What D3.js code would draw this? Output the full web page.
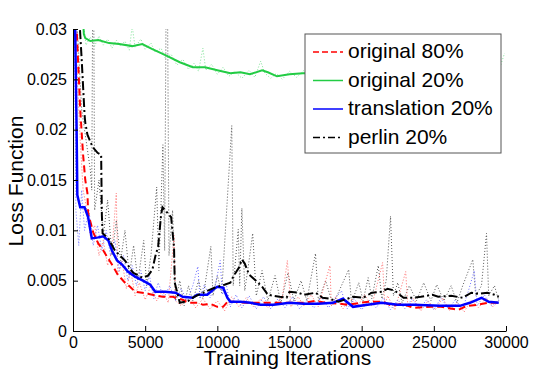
<!DOCTYPE html>
<html>
<head>
<meta charset="utf-8">
<script src="https://cdn.jsdelivr.net/npm/d3@7"></script>
<style>
  html, body { margin: 0; padding: 0; background: #fff; }
  svg { display: block; font-family: 'Liberation Sans', Arial, Helvetica, sans-serif; }
</style>
</head>
<body>
<svg id="chart" width="550" height="371"></svg>
<script>
// tick values
var xTicks = [0, 5000, 10000, 15000, 20000, 25000, 30000];
var yTicks = [0, 0.005, 0.01, 0.015, 0.02, 0.025, 0.03];
var legendNames = ['original 80%', 'original 20%', 'translation 20%', 'perlin 20%'];

// smoothed curves, [iteration, loss]
var orig80 = [[100, 0.035], [500, 0.022], [700, 0.0175], [850, 0.015], [1000, 0.0137], [1050, 0.0117],
  [1400, 0.0098], [1750, 0.0087], [2100, 0.0080], [2350, 0.0074], [2700, 0.0066], [2900, 0.0061],
  [3100, 0.0056], [3600, 0.0048], [3950, 0.0044], [4300, 0.0039], [4800, 0.0038], [5500, 0.0036],
  [6200, 0.0034], [6900, 0.0034], [7600, 0.0031], [8000, 0.0028], [8700, 0.0028], [9000, 0.0026],
  [9500, 0.0027], [10000, 0.0024], [10400, 0.0024], [10700, 0.0029], [11100, 0.0029], [12000, 0.0028],
  [12800, 0.0028], [13400, 0.0028], [14300, 0.0028], [15200, 0.0028], [16000, 0.0028], [16800, 0.0030],
  [17500, 0.0028], [18500, 0.0027], [19000, 0.0026], [19900, 0.0028], [20500, 0.0029], [21500, 0.0029],
  [22100, 0.0025], [22800, 0.0027], [23600, 0.0023], [24800, 0.0024], [25500, 0.0024], [26700, 0.0021],
  [27300, 0.0025], [28000, 0.0026], [28700, 0.0028], [29500, 0.0028]];

var orig20 = [[700, 0.031], [750, 0.0295], [850, 0.0291], [1200, 0.0288], [1750, 0.0289], [2500, 0.0286],
  [3200, 0.0285], [4100, 0.0283], [4800, 0.0285], [5500, 0.0280], [6400, 0.0274], [7400, 0.0267],
  [8300, 0.0262], [9150, 0.0262], [10000, 0.0259], [10900, 0.0256], [11600, 0.0257], [12260, 0.0255],
  [13100, 0.0259], [13500, 0.0257], [14130, 0.0253], [15000, 0.0255], [15930, 0.0256], [17000, 0.0256],
  [19000, 0.0255], [21000, 0.0257], [23000, 0.0256], [25000, 0.0257], [27000, 0.0256], [29500, 0.0257]];

var transl20 = [[100, 0.035], [250, 0.02], [300, 0.0135], [500, 0.0123], [800, 0.0123], [1050, 0.0113],
  [1300, 0.0092], [1750, 0.0093], [2100, 0.0094], [2450, 0.0090], [2700, 0.0080], [3050, 0.0070],
  [3400, 0.0066], [3800, 0.0059], [4300, 0.0054], [4850, 0.0050], [5350, 0.0046], [5700, 0.0039],
  [6400, 0.0039], [7100, 0.0038], [7600, 0.0034], [8300, 0.0033], [8600, 0.0036], [9300, 0.0036],
  [9700, 0.0041], [10000, 0.0044], [10400, 0.0043], [10700, 0.0033], [10900, 0.0029], [11600, 0.0029],
  [12300, 0.0028], [13000, 0.0026], [13900, 0.0026], [15000, 0.0028], [16000, 0.0027], [17000, 0.0027],
  [18000, 0.0028], [18700, 0.0032], [19400, 0.0024], [20400, 0.0026], [21400, 0.0028], [22500, 0.0026],
  [23600, 0.0026], [25400, 0.0025], [26800, 0.0025], [27500, 0.0028], [28300, 0.0033], [28800, 0.0029],
  [29500, 0.0028]];

var perlin20 = [[100, 0.04], [400, 0.032], [600, 0.027], [800, 0.0215], [850, 0.0207], [1000, 0.0195],
  [1350, 0.0183], [1700, 0.0177], [1950, 0.0175], [2000, 0.0115], [2050, 0.0097], [2450, 0.0092],
  [2900, 0.0080], [3600, 0.0070], [4150, 0.0058], [4800, 0.0053], [5200, 0.0055], [5500, 0.0061],
  [5700, 0.0074], [5900, 0.0084], [6100, 0.0115], [6200, 0.0123], [6500, 0.0118], [6800, 0.0113],
  [7000, 0.0083], [7050, 0.0048], [7400, 0.0028], [8000, 0.0030], [8400, 0.0034], [9000, 0.0038],
  [9800, 0.0043], [10500, 0.0046], [10900, 0.0048], [11100, 0.0054], [11500, 0.0063], [11700, 0.0071],
  [11900, 0.0067], [12200, 0.0056], [12600, 0.0051], [13100, 0.0044], [13500, 0.0036], [14300, 0.0034],
  [14800, 0.0033], [15000, 0.0039], [15600, 0.0038], [16000, 0.0036], [16800, 0.0038], [17300, 0.0033],
  [17800, 0.0032], [18400, 0.0029], [19400, 0.0034], [20100, 0.0033], [20700, 0.0038], [21400, 0.0039],
  [21800, 0.0042], [22300, 0.0040], [22900, 0.0033], [23600, 0.0033], [24100, 0.0034], [24900, 0.0036],
  [25300, 0.0034], [26200, 0.0035], [27000, 0.0033], [27600, 0.0038], [28100, 0.0037], [28700, 0.0038],
  [29200, 0.0036], [29500, 0.0034]];

// raw (unsmoothed) curves, drawn dotted
var orig80Raw = [[0, 0.05], [300, 0.025], [500, 0.019], [700, 0.014], [900, 0.0125], [1200, 0.0095],
  [1500, 0.0105], [1800, 0.0075], [2100, 0.0090], [2400, 0.0065], [2700, 0.0080], [3000, 0.0137],
  [3100, 0.0055], [3400, 0.0070], [3700, 0.0042], [4000, 0.0060], [4300, 0.0035], [4600, 0.0048],
  [5000, 0.0031], [5400, 0.0045], [5800, 0.0030], [6200, 0.0040], [6600, 0.0028], [7000, 0.0095],
  [7100, 0.0030], [7500, 0.0025], [8000, 0.0035], [8500, 0.0023], [9000, 0.0032], [9500, 0.0022],
  [10000, 0.0030], [10500, 0.0020], [11000, 0.0034], [11500, 0.0024], [12000, 0.0033], [12500, 0.0024],
  [13000, 0.0032], [13500, 0.0023], [14500, 0.0033], [14850, 0.0070], [15100, 0.0024], [15600, 0.0034],
  [16000, 0.0025], [16500, 0.0036], [17000, 0.0024], [17800, 0.0065], [17900, 0.0025], [18200, 0.0034],
  [18700, 0.0022], [19200, 0.0033], [19700, 0.0024], [20200, 0.0036], [20700, 0.0025], [21450, 0.0068],
  [21600, 0.0026], [21800, 0.0035], [22300, 0.0021], [23050, 0.0059], [23200, 0.0024], [23600, 0.0032],
  [24100, 0.0020], [24600, 0.0030], [25100, 0.0021], [25600, 0.0033], [26100, 0.0020], [26600, 0.0028],
  [27100, 0.0019], [27600, 0.0031], [28100, 0.0023], [28600, 0.0033], [29100, 0.0024], [29500, 0.0030]];

var orig20Raw = [[700, 0.031], [900, 0.0284], [1200, 0.0292], [1500, 0.0283], [1800, 0.0293], [2100, 0.0284],
  [2400, 0.0290], [2700, 0.0281], [3000, 0.0289], [3300, 0.0283], [3600, 0.0288], [3900, 0.0279],
  [4100, 0.0303], [4300, 0.0282], [4700, 0.0290], [5000, 0.0280], [5400, 0.0286], [5700, 0.0277],
  [6100, 0.0281], [6400, 0.0271], [6800, 0.0275], [7200, 0.0264], [7600, 0.0270], [8000, 0.0260],
  [8400, 0.0266], [8700, 0.0258], [9000, 0.0281], [9200, 0.0259], [9600, 0.0265], [10000, 0.0255],
  [10400, 0.0262], [10800, 0.0253], [11200, 0.0258], [11700, 0.0251], [12200, 0.0259], [12600, 0.0252],
  [13000, 0.0268], [13300, 0.0256], [13700, 0.0251], [14100, 0.0256], [14500, 0.0250], [15000, 0.0258],
  [15500, 0.0252], [16000, 0.0259], [17000, 0.0254], [18500, 0.0259], [20000, 0.0253], [22000, 0.0258],
  [24000, 0.0254], [26000, 0.0259], [28000, 0.0255], [29500, 0.0258], [29900, 0.0276]];

var transl20Raw = [[0, 0.05], [200, 0.012], [400, 0.0085], [600, 0.014], [800, 0.010], [1100, 0.0120],
  [1400, 0.0085], [1700, 0.0105], [2000, 0.0080], [2300, 0.0100], [2600, 0.0075], [2900, 0.0090],
  [3200, 0.0060], [3500, 0.0075], [3800, 0.0050], [4100, 0.0065], [4400, 0.0045], [4700, 0.0060],
  [5000, 0.0040], [5300, 0.0055], [5600, 0.0032], [5900, 0.0048], [6300, 0.0033], [6700, 0.0045],
  [7100, 0.0030], [7500, 0.0042], [7900, 0.0030], [8300, 0.0045], [8650, 0.0064], [8800, 0.0032],
  [9100, 0.0046], [9500, 0.0033], [9900, 0.0048], [10200, 0.0070], [10350, 0.0036], [10600, 0.0048],
  [10900, 0.0024], [11300, 0.0036], [11700, 0.0023], [12200, 0.0035], [12700, 0.0022], [13200, 0.0034],
  [13700, 0.0022], [14200, 0.0032], [14700, 0.0023], [15200, 0.0034], [15700, 0.0022], [16200, 0.0031],
  [16700, 0.0023], [17200, 0.0034], [17700, 0.0023], [18200, 0.0033], [18600, 0.0040], [19000, 0.0022],
  [19500, 0.0032], [20000, 0.0021], [20500, 0.0031], [21000, 0.0023], [21500, 0.0033], [22000, 0.0021],
  [22500, 0.0031], [23000, 0.0022], [23500, 0.0032], [24000, 0.0022], [24500, 0.0031], [25000, 0.0021],
  [25500, 0.0033], [26000, 0.0022], [26500, 0.0031], [27000, 0.0022], [27400, 0.0040], [27800, 0.0060],
  [28000, 0.0025], [28500, 0.0036], [29000, 0.0025], [29500, 0.0031]];

var perlin20Raw = [[0, 0.05], [300, 0.03], [600, 0.022], [900, 0.019], [1200, 0.016], [1300, 0.014],
  [1400, 0.045], [1500, 0.012], [1800, 0.015], [2100, 0.0095], [2400, 0.0130], [2700, 0.0075],
  [3000, 0.0110], [3300, 0.0070], [3600, 0.0100], [3900, 0.0055], [4200, 0.0085], [4500, 0.0050],
  [4900, 0.0090], [5100, 0.0045], [5400, 0.0075], [5800, 0.0143], [5950, 0.0060], [6230, 0.0185],
  [6350, 0.0080], [6500, 0.045], [6650, 0.0075], [6900, 0.0120], [7100, 0.0030], [7400, 0.0050],
  [7700, 0.0025], [8000, 0.0045], [8300, 0.0030], [8700, 0.0050], [9000, 0.0032], [9550, 0.0084],
  [9700, 0.0035], [10000, 0.0055], [10300, 0.0038], [11000, 0.0204], [11100, 0.0045], [11450, 0.0101],
  [11550, 0.0045], [11700, 0.0122], [11900, 0.0040], [12200, 0.0070], [12450, 0.0097], [12700, 0.0035],
  [13100, 0.0060], [13500, 0.0030], [14000, 0.0055], [14400, 0.0028], [14900, 0.0058], [15300, 0.0030],
  [15800, 0.0050], [16200, 0.0030], [16800, 0.0077], [17000, 0.0030], [17500, 0.0050], [18000, 0.0026],
  [18600, 0.0045], [19100, 0.0061], [19300, 0.0028], [19800, 0.0048], [20100, 0.0030], [20450, 0.0053],
  [20700, 0.0032], [21150, 0.0065], [21400, 0.0032], [21700, 0.0050], [22000, 0.0114], [22200, 0.0035],
  [22500, 0.0048], [22800, 0.0028], [23300, 0.0045], [23800, 0.0030], [24300, 0.0048], [24800, 0.0030],
  [25200, 0.0046], [25700, 0.0030], [26200, 0.0045], [26600, 0.0028], [27000, 0.0045], [27700, 0.0071],
  [27900, 0.0035], [28300, 0.0045], [28650, 0.0097], [28800, 0.0035], [29200, 0.0045], [29500, 0.0030]];

(function () {
  'use strict';

  var svg = d3.select('#chart'),
      margin = {top: 29, right: 44, bottom: 40, left: 73},
      width = +svg.attr('width') - margin.left - margin.right,
      height = +svg.attr('height') - margin.top - margin.bottom,
      g = svg.append('g').attr('transform', 'translate(' + margin.left + ',' + margin.top + ')');

  var x = d3.scaleLinear().domain([0, 30000]).range([0, width]);
  var y = d3.scaleLinear().domain([0, 0.03]).range([height, 0]);

  var line = d3.line()
      .x(function (d) { return x(d[0]); })
      .y(function (d) { return y(d[1]); });

  g.append('defs').append('clipPath')
      .attr('id', 'clipper')
      .append('rect')
        .attr('width', width)
        .attr('height', height);

  var plot = g.append('g').attr('clip-path', 'url(#clipper)');

  // raw traces first, thin and dotted
  var raws = [
    {data: perlin20Raw, color: '#555555'},
    {data: orig80Raw, color: '#ff6a6a'},
    {data: transl20Raw, color: '#6f6fff'},
    {data: orig20Raw, color: '#7ee396'}
  ];
  raws.forEach(function (r) {
    plot.append('path')
        .datum(r.data)
        .attr('fill', 'none')
        .attr('stroke', r.color)
        .attr('stroke-width', 1)
        .attr('stroke-dasharray', '1,2')
        .attr('d', line);
  });

  // smoothed curves, same order as legend
  var styles = [
    {data: orig80, color: '#ff0000', dash: '7,4', w: 2},
    {data: orig20, color: '#22cc44', dash: null, w: 2},
    {data: transl20, color: '#0000ff', dash: null, w: 2.5},
    {data: perlin20, color: '#000000', dash: '9,3,2,3', w: 2}
  ];
  styles.forEach(function (s) {
    plot.append('path')
        .datum(s.data)
        .attr('fill', 'none')
        .attr('stroke', s.color)
        .attr('stroke-width', s.w)
        .attr('stroke-dasharray', s.dash)
        .attr('d', line);
  });

  // axes, ticks pointing inward like matlab
  var xAxis = d3.axisBottom(x).tickValues(xTicks).tickFormat(d3.format('d'))
      .tickSizeInner(-5).tickSizeOuter(0).tickPadding(6);
  var yAxis = d3.axisLeft(y).tickValues(yTicks).tickFormat(function (d) { return d3.format('')(+d.toFixed(3)); })
      .tickSizeInner(-5).tickSizeOuter(0).tickPadding(6);

  var xg = g.append('g')
      .attr('transform', 'translate(0,' + height + ')')
      .call(xAxis);
  var yg = g.append('g').call(yAxis);

  [xg, yg].forEach(function (a) {
    a.selectAll('text').attr('fill', '#000').style('font-size', '16px')
        .style('font-family', "'Liberation Sans', Arial, sans-serif");
    a.selectAll('line, path').attr('stroke', '#000');
  });

  // axis titles
  svg.append('text')
      .attr('x', margin.left + width / 2 - 2)
      .attr('y', 365)
      .attr('text-anchor', 'middle')
      .style('font-size', '21px')
      .text('Training Iterations');

  svg.append('text')
      .attr('transform', 'translate(23,' + (margin.top + height / 2 + 1) + ') rotate(-90)')
      .attr('text-anchor', 'middle')
      .style('font-size', '21px')
      .text('Loss Function');

  // legend
  var legend = svg.append('g').attr('transform', 'translate(305,34)');
  legend.append('rect')
      .attr('width', 196)
      .attr('height', 119)
      .attr('fill', '#fff')
      .attr('stroke', '#555')
      .attr('stroke-width', 1);

  legendNames.forEach(function (name, i) {
    var row = legend.append('g').attr('transform', 'translate(0,' + (18 + i * 28.5) + ')');
    row.append('line')
        .attr('x1', 8).attr('x2', 38)
        .attr('y1', 0).attr('y2', 0)
        .attr('stroke', styles[i].color)
        .attr('stroke-width', 1.5)
        .attr('stroke-dasharray', i === 0 ? '6,3' : (i === 3 ? '7,3,2,3' : null));
    row.append('text')
        .attr('x', 43)
        .attr('y', 6)
        .style('font-size', '21px')
        .text(name);
  });
})();
</script>
</body>
</html>
